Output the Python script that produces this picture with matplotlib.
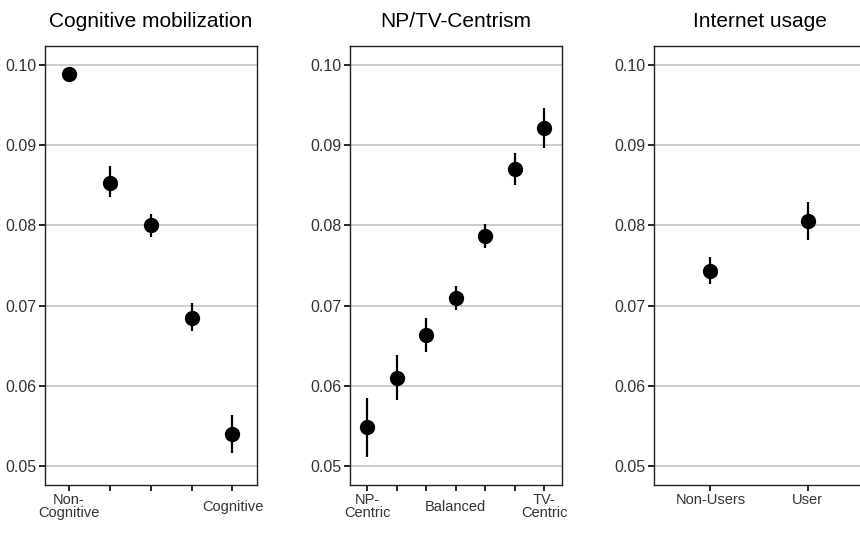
import numpy as np
import matplotlib.pyplot as plt

plt.rcParams['font.family'] = ['Liberation Sans', 'DejaVu Sans']

# predicted values with lower / upper bounds per panel
cog_labels = ['Non-\nCognitive', '', '', '', 'Cognitive']
cog_mean = [0.0989, 0.0853, 0.0800, 0.0685, 0.0540]
cog_lo = [0.0985, 0.0835, 0.0785, 0.0668, 0.0516]
cog_hi = [0.0993, 0.0874, 0.0814, 0.0703, 0.0564]

np_labels = ['NP-\nCentric', '', '', 'Balanced', '', '', 'TV-\nCentric']
np_mean = [0.0548, 0.0610, 0.0663, 0.0710, 0.0787, 0.0870, 0.0922]
np_lo = [0.0511, 0.0582, 0.0642, 0.0695, 0.0772, 0.0851, 0.0896]
np_hi = [0.0585, 0.0639, 0.0684, 0.0725, 0.0802, 0.0890, 0.0947]

net_labels = ['Non-Users', 'User']
net_mean = [0.0743, 0.0805]
net_lo = [0.0727, 0.0782]
net_hi = [0.0760, 0.0829]

titles = ['Cognitive mobilization', 'NP/TV-Centrism', 'Internet usage']
yticks = [0.05, 0.06, 0.07, 0.08, 0.09, 0.10]

fig = plt.figure(figsize=(8.6, 5.59), dpi=100)
lefts = [45 / 860, 350 / 860, 654 / 860]
bottom = (559 - 485) / 559
height = 439 / 559
width = 212 / 860

panels = [
    (cog_labels, cog_mean, cog_lo, cog_hi, 11.5),
    (np_labels, np_mean, np_lo, np_hi, 11.5),
    (net_labels, net_mean, net_lo, net_hi, 6.5),
]

for i, (labels, mean, lo, hi, pad) in enumerate(panels):
    ax = fig.add_axes([lefts[i], bottom, width, height])
    x = np.arange(len(mean))
    mean = np.array(mean)
    yerr = [mean - np.array(lo), np.array(hi) - mean]
    ax.errorbar(x, mean, yerr=yerr, fmt='o', color='black', ms=10,
                elinewidth=1.6, capsize=0, zorder=3)
    ax.set_xlim(-0.58, len(mean) - 1 + 0.6)
    ax.set_ylim(0.04763, 0.10237)
    ax.set_yticks(yticks)
    ax.set_yticklabels(['%.2f' % t for t in yticks], fontsize=11.5, color='#333333')
    ax.set_xticks(x)
    ax.set_xticklabels(labels, fontsize=10.5, color='#333333', va='center',
                       linespacing=0.95)
    ax.tick_params(axis='x', length=4, width=1.2, pad=pad)
    ax.tick_params(axis='y', length=4, width=1.2, pad=2)
    ax.grid(axis='y', color='#c4c4c4', lw=1.2)
    ax.set_axisbelow(True)
    for s in ax.spines.values():
        s.set_linewidth(1.0)
        s.set_color('#222222')
    ax.set_title(titles[i], fontsize=15, pad=14)

fig.savefig('out.png', dpi=100)
